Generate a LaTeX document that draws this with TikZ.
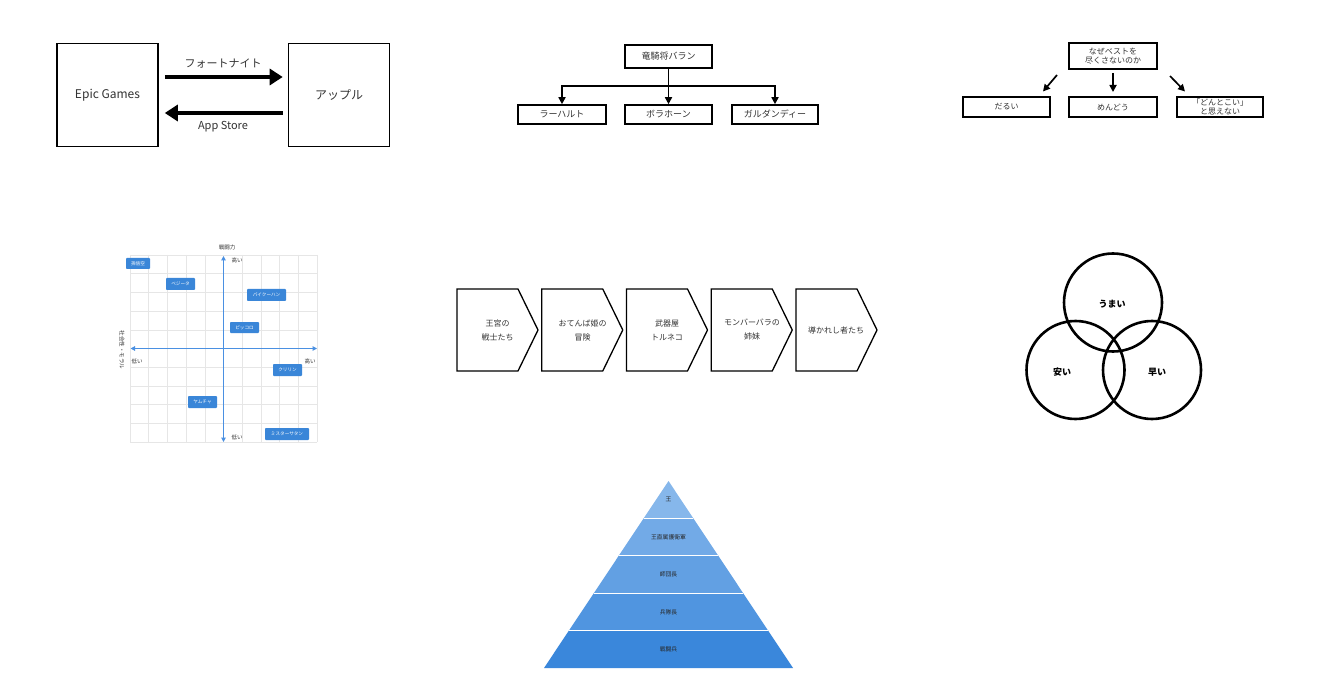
\documentclass[tikz,border=0pt]{standalone}
\usepackage{fontspec}
\setmainfont{Noto Sans CJK JP}
\usetikzlibrary{arrows.meta,calc}
\definecolor{txt}{HTML}{333333}
\definecolor{gridc}{HTML}{E6E6E6}
\definecolor{axisb}{HTML}{4A90E2}
\definecolor{boxb}{HTML}{3A86D8}
\definecolor{pyA}{HTML}{86B7EB}
\definecolor{pyB}{HTML}{72AAE7}
\definecolor{pyC}{HTML}{62A0E3}
\definecolor{pyD}{HTML}{5095E0}
\definecolor{pyE}{HTML}{3A87DB}
\begin{document}
\begin{tikzpicture}[x=1pt,y=-1pt,
  bigbox/.style={draw=black, line width=1.6pt, inner sep=0pt, text=txt, font=\fontsize{12}{14}\selectfont},
  midbox/.style={draw=black, line width=1.6pt, inner sep=0pt, text=txt, font=\fontsize{9}{11}\selectfont, align=center},
  smallbox/.style={draw=black, line width=1.5pt, inner sep=0pt, text=txt, font=\fontsize{8}{9}\selectfont, align=center},
  fatarrow/.style={line width=4pt, -{Triangle[length=13pt,width=16pt]}},
  treearrow/.style={line width=1.6pt, -{Triangle[length=7pt,width=7pt]}},
  whyarrow/.style={line width=1.7pt, -{Triangle[length=7pt,width=7pt]}},
  lbl/.style={text=txt, inner sep=1pt},
  tag/.style={fill=boxb, text=white, inner sep=0pt, rounded corners=0.8pt, font=\fontsize{4.6}{5}\selectfont},
  axlbl/.style={text=txt, inner sep=0pt, font=\fontsize{5.5}{6.5}\selectfont},
  chev/.style={draw=black, line width=1.3pt, line join=miter},
  chevtxt/.style={text=txt, align=center, font=\fontsize{8}{14}\selectfont, inner sep=0pt},
  venn/.style={draw=black, circle, line width=2.6pt, minimum size=98pt, inner sep=0pt},
  venntxt/.style={text=black, font=\bfseries\fontsize{9}{10}\selectfont, inner sep=0pt},
  pytxt/.style={text=black!85, font=\fontsize{5.8}{6.5}\selectfont, inner sep=0pt}
]
\useasboundingbox (0,0) rectangle (1337,700);
\fill[white] (0,0) rectangle (1337,700);

% ---------- Epic vs Apple ----------
\node[bigbox, minimum width=101pt, minimum height=103pt] (epic) at (107.5,95) {Epic Games};
\node[bigbox, minimum width=101pt, minimum height=103pt] (apple) at (339,95) {アップル};
\draw[fatarrow] ([xshift=6pt,yshift=18pt]epic.east) -- ([xshift=-5pt,yshift=18pt]apple.west);
\draw[fatarrow] ([xshift=-5pt,yshift=-18pt]apple.west) -- ([xshift=6pt,yshift=-18pt]epic.east);
\node[lbl, font=\fontsize{11}{13}\selectfont] (fort) at (223,63.5) {フォートナイト};
\node[lbl, font=\fontsize{11}{13}\selectfont] (store) at (223,126.5) {App Store};

% ---------- Tree ----------
\node[midbox, minimum width=87pt, minimum height=23pt] (baran) at (668.5,56.5) {竜騎将バラン};
\node[midbox, minimum width=88pt, minimum height=19pt] (lar) at (562,114.5) {ラーハルト};
\node[midbox, minimum width=87pt, minimum height=19pt] (bora) at (668.5,114.5) {ボラホーン};
\node[midbox, minimum width=86pt, minimum height=19pt] (garu) at (775,114.5) {ガルダンディー};
\coordinate (bus) at (668.5,86);
\draw[treearrow] (baran.south) -- (bus) -| (lar.north);
\draw[treearrow] (bus) -| (garu.north);
\draw[treearrow] (bus) -- (bora.north);

% ---------- Why ----------
\node[smallbox, minimum width=88pt, minimum height=26pt] (why) at (1113,56) {なぜベストを\\尽くさないのか};
\node[smallbox, minimum width=87pt, minimum height=20pt] (dar) at (1006.5,107) {だるい};
\node[smallbox, minimum width=88pt, minimum height=20pt] (men) at (1113,107) {めんどう};
\node[smallbox, minimum width=86pt, minimum height=20pt] (don) at (1220,107) {「どんとこい」\\と思えない};
\coordinate (w1s) at (1057,75);
\coordinate (w1e) at (1043,91.5);
\coordinate (w2s) at (1113,73);
\coordinate (w2e) at (1113,92);
\coordinate (w3s) at (1170,76);
\coordinate (w3e) at (1185,91.5);
\draw[whyarrow] (w1s) -- (w1e);
\draw[whyarrow] (w2s) -- (w2e);
\draw[whyarrow] (w3s) -- (w3e);

% ---------- Scatter ----------
\foreach \i in {0,...,10} {
  \draw[gridc, line width=0.5pt] (130+18.7*\i,255) -- (130+18.7*\i,442);
  \draw[gridc, line width=0.5pt] (130,255+18.7*\i) -- (317,255+18.7*\i);
}
\coordinate (axl) at (130.5,348.5);
\coordinate (axr) at (317,348.5);
\coordinate (axt) at (223.5,256);
\coordinate (axb) at (223.5,442);
\draw[axisb, line width=1.3pt, {Triangle[length=4.5pt,width=4.5pt]}-{Triangle[length=4.5pt,width=4.5pt]}] (axl) -- (axr);
\draw[axisb, line width=1.3pt, {Triangle[length=4.5pt,width=4.5pt]}-{Triangle[length=4.5pt,width=4.5pt]}] (axt) -- (axb);
\node[axlbl] (ytitle) at (227,247) {戦闘力};
\node[axlbl] (yhi) at (237,260.5) {高い};
\node[axlbl] (ylo) at (237,437.5) {低い};
\node[axlbl] (xlo) at (137,361) {低い};
\node[axlbl] (xhi) at (310,361) {高い};
\node[axlbl, rotate=-90] (xtitle) at (122,350) {社会性・モラル};
\node[tag, minimum width=24pt, minimum height=11pt] (goku) at (138,263.5) {孫悟空};
\node[tag, minimum width=29pt, minimum height=12pt] (vege) at (180.5,284) {ベジータ};
\node[tag, minimum width=39pt, minimum height=12pt] (paiku) at (266.5,295) {パイクーハン};
\node[tag, minimum width=29pt, minimum height=11pt] (picc) at (244.5,327.5) {ピッコロ};
\node[tag, minimum width=29pt, minimum height=12pt] (kuri) at (287.5,370) {クリリン};
\node[tag, minimum width=29pt, minimum height=12pt] (yam) at (202.5,402) {ヤムチャ};
\node[tag, minimum width=44pt, minimum height=12pt] (satan) at (287,434) {ミスターサタン};

% ---------- Chevrons ----------
\foreach \k in {0,...,4} {
  \draw[chev] (457+84.75*\k,289) -- (518+84.75*\k,289) -- (538+84.75*\k,330) -- (518+84.75*\k,371) -- (457+84.75*\k,371) -- cycle;
}
\node[chevtxt] (c1) at (497.5,330) {王宮の\\戦士たち};
\node[chevtxt] (c2) at (582.5,330) {おてんば姫の\\冒険};
\node[chevtxt] (c3) at (667,330) {武器屋\\トルネコ};
\node[chevtxt] (c4) at (752,330) {モンバーバラの\\姉妹};
\node[chevtxt] (c5) at (836,330) {導かれし者たち};

% ---------- Venn ----------
\node[venn] (vtop) at (1113,302.5) {};
\node[venn] (vleft) at (1075.5,370) {};
\node[venn] (vright) at (1152,370) {};
\node[venntxt] (umai) at (1112,304) {うまい};
\node[venntxt] (yasui) at (1062,372) {安い};
\node[venntxt] (hayai) at (1157,372) {早い};

% ---------- Pyramid ----------
\coordinate (apex) at (668.5,481);
\coordinate (bl) at (544,668);
\coordinate (br) at (793,668);
\fill[pyA] (apex) -- ($(apex)!0.2!(br)$) -- ($(apex)!0.2!(bl)$) -- cycle;
\fill[pyB] ($(apex)!0.2!(bl)$) -- ($(apex)!0.2!(br)$) -- ($(apex)!0.4!(br)$) -- ($(apex)!0.4!(bl)$) -- cycle;
\fill[pyC] ($(apex)!0.4!(bl)$) -- ($(apex)!0.4!(br)$) -- ($(apex)!0.6!(br)$) -- ($(apex)!0.6!(bl)$) -- cycle;
\fill[pyD] ($(apex)!0.6!(bl)$) -- ($(apex)!0.6!(br)$) -- ($(apex)!0.8!(br)$) -- ($(apex)!0.8!(bl)$) -- cycle;
\fill[pyE] ($(apex)!0.8!(bl)$) -- ($(apex)!0.8!(br)$) -- (br) -- (bl) -- cycle;
\foreach \f in {0.2,0.4,0.6,0.8} {
  \draw[white, line width=1.3pt] ($(apex)!\f!(bl)$) -- ($(apex)!\f!(br)$);
}
\node[pytxt] (p1) at (668.5,499.5) {王};
\node[pytxt] (p2) at (668.5,537) {王直属護衛軍};
\node[pytxt] (p3) at (668.5,574.5) {師団長};
\node[pytxt] (p4) at (668.5,612) {兵隊長};
\node[pytxt] (p5) at (668.5,649.5) {戦闘兵};
\end{tikzpicture}
\end{document}
